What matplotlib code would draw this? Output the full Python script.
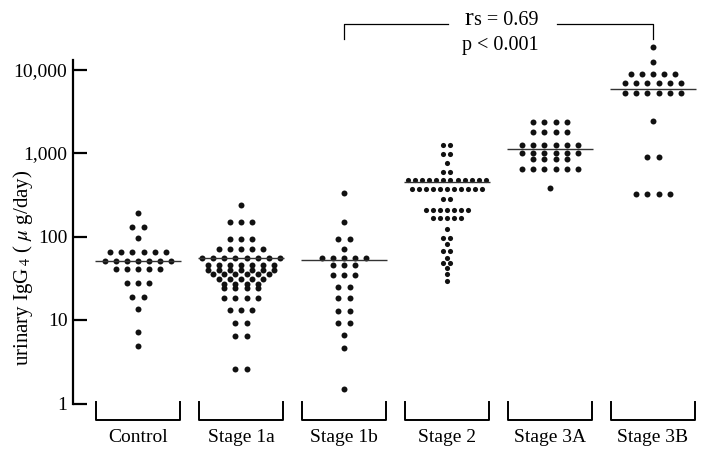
import numpy as np
import matplotlib
matplotlib.use("Agg")
import matplotlib.pyplot as plt
import matplotlib.transforms as mtransforms
from matplotlib.ticker import FixedLocator, FixedFormatter, NullLocator

plt.rcParams['font.family'] = ['Liberation Serif', 'DejaVu Serif']
plt.rcParams['mathtext.fontset'] = 'stix'

grupos = ["Control", "Stage 1a", "Stage 1b", "Stage 2", "Stage 3A", "Stage 3B"]

# cada linha de pontos: valor (ug/dia) e quantos pontos tem a linha
control_vals = [190, 129, 95, 66, 51, 41, 27.5, 18.7, 13.4, 7.2, 4.9]
control_n = [1, 2, 1, 6, 7, 5, 3, 2, 1, 1, 1]

st1a_vals = [238, 148, 93, 71, 55, 45.6, 39.7, 35.3, 30.7, 26.8, 24.4, 18.2, 13.2, 9.1, 6.5, 2.6]
st1a_n = [1, 3, 3, 5, 8, 7, 7, 6, 5, 4, 4, 4, 3, 2, 2, 2]

st1b_vals = [329, 148, 93, 71, 55, 45.6, 34.6, 24.6, 18.5, 12.9, 9.1, 6.6, 4.6, 1.49]
st1b_n = [1, 1, 2, 1, 5, 3, 3, 2, 2, 2, 2, 1, 1, 1]

st2_vals = [1247, 973, 766, 597, 470, 371, 285, 210, 165, 123, 95, 81, 67, 56, 48.6, 41.6, 35.3, 29.6]
st2_n = [2, 2, 1, 2, 12, 11, 2, 7, 5, 1, 2, 1, 2, 1, 2, 1, 1, 1]

st3a_vals = [2370, 1770, 1247, 991, 847, 638, 378]
st3a_n = [4, 4, 6, 6, 4, 6, 1]

st3b_vals = [18450, 12400, 8770, 6840, 5190, 2440, 889, 320]
st3b_n = [1, 1, 5, 6, 6, 1, 2, 4]

medianas = [51, 55, 52, 450, 1110, 5835]

yticks = [1, 10, 100, 1000, 10000]
ytick_labels = ["1", "10", "100", "1,000", "10,000"]

linhas = [(control_vals, control_n), (st1a_vals, st1a_n), (st1b_vals, st1b_n),
          (st2_vals, st2_n), (st3a_vals, st3a_n), (st3b_vals, st3b_n)]

# espacamento horizontal entre pontos (Stage 2 e mais apertado)
passo = [0.107, 0.107, 0.107, 0.068, 0.107, 0.107]
tam = [4.3, 4.3, 4.3, 3.7, 4.3, 4.3]

fig = plt.figure(figsize=(7.08, 4.49), dpi=100)
ax = fig.add_axes([73 / 708, 45.5 / 449, 635 / 708, 403.5 / 449])
ax.set_yscale('log')
ax.set_ylim(1, 10 ** (403.5 / 83.5))
ax.set_xlim(-0.631, 5.534)

for i, (vals, ns) in enumerate(linhas):
    for v, n in zip(vals, ns):
        desloc = (np.arange(n) - (n - 1) / 2) * passo[i]
        ax.plot(i + desloc, [v] * n, 'o', color='#111111', ms=tam[i], mec='none', clip_on=False)
    ax.hlines(medianas[i], i - 0.42, i + 0.42, color='#333333', lw=1.0)

# eixos
for s in ['top', 'right', 'bottom']:
    ax.spines[s].set_visible(False)
ax.spines['left'].set_linewidth(1.6)
ax.spines['left'].set_bounds(1, 13000)
ax.yaxis.set_major_locator(FixedLocator(yticks))
ax.yaxis.set_major_formatter(FixedFormatter(ytick_labels))
ax.yaxis.set_minor_locator(NullLocator())
ax.tick_params(axis='y', direction='in', length=10, width=1.6, pad=4, labelsize=14)
ax.set_xticks([])

ax.set_ylabel("urinary IgG$_{\\,4}$ ( $\\mu$ g/day)", fontsize=15)
ax.yaxis.set_label_coords(-0.06, 0.335)

trans = mtransforms.blended_transform_factory(ax.transData, ax.transAxes)

# colchetes dos grupos embaixo
for i, g in enumerate(grupos):
    ax.plot([i - 0.41, i - 0.41, i + 0.41, i + 0.41], [0.003, -0.041, -0.041, 0.003],
            transform=trans, clip_on=False, color='k', lw=1.4)
    ax.text(i, -0.085, g, transform=trans, ha='center', va='center', fontsize=14)

# correlacao no topo
ax.plot([2, 2, 3.01], [0.903, 0.9405, 0.9405], transform=trans, clip_on=False, color='k', lw=0.9)
ax.plot([4.07, 5, 5], [0.9405, 0.9405, 0.903], transform=trans, clip_on=False, color='k', lw=0.9)
ax.text(3.26, 0.938, "r", transform=trans, ha='right', va='baseline', fontsize=19)
ax.text(3.26, 0.938, "s = 0.69", transform=trans, ha='left', va='baseline', fontsize=14.5)
ax.text(3.515, 0.876, "p < 0.001", transform=trans, ha='center', va='baseline', fontsize=14.5)

fig.savefig("out.png", dpi=100)
